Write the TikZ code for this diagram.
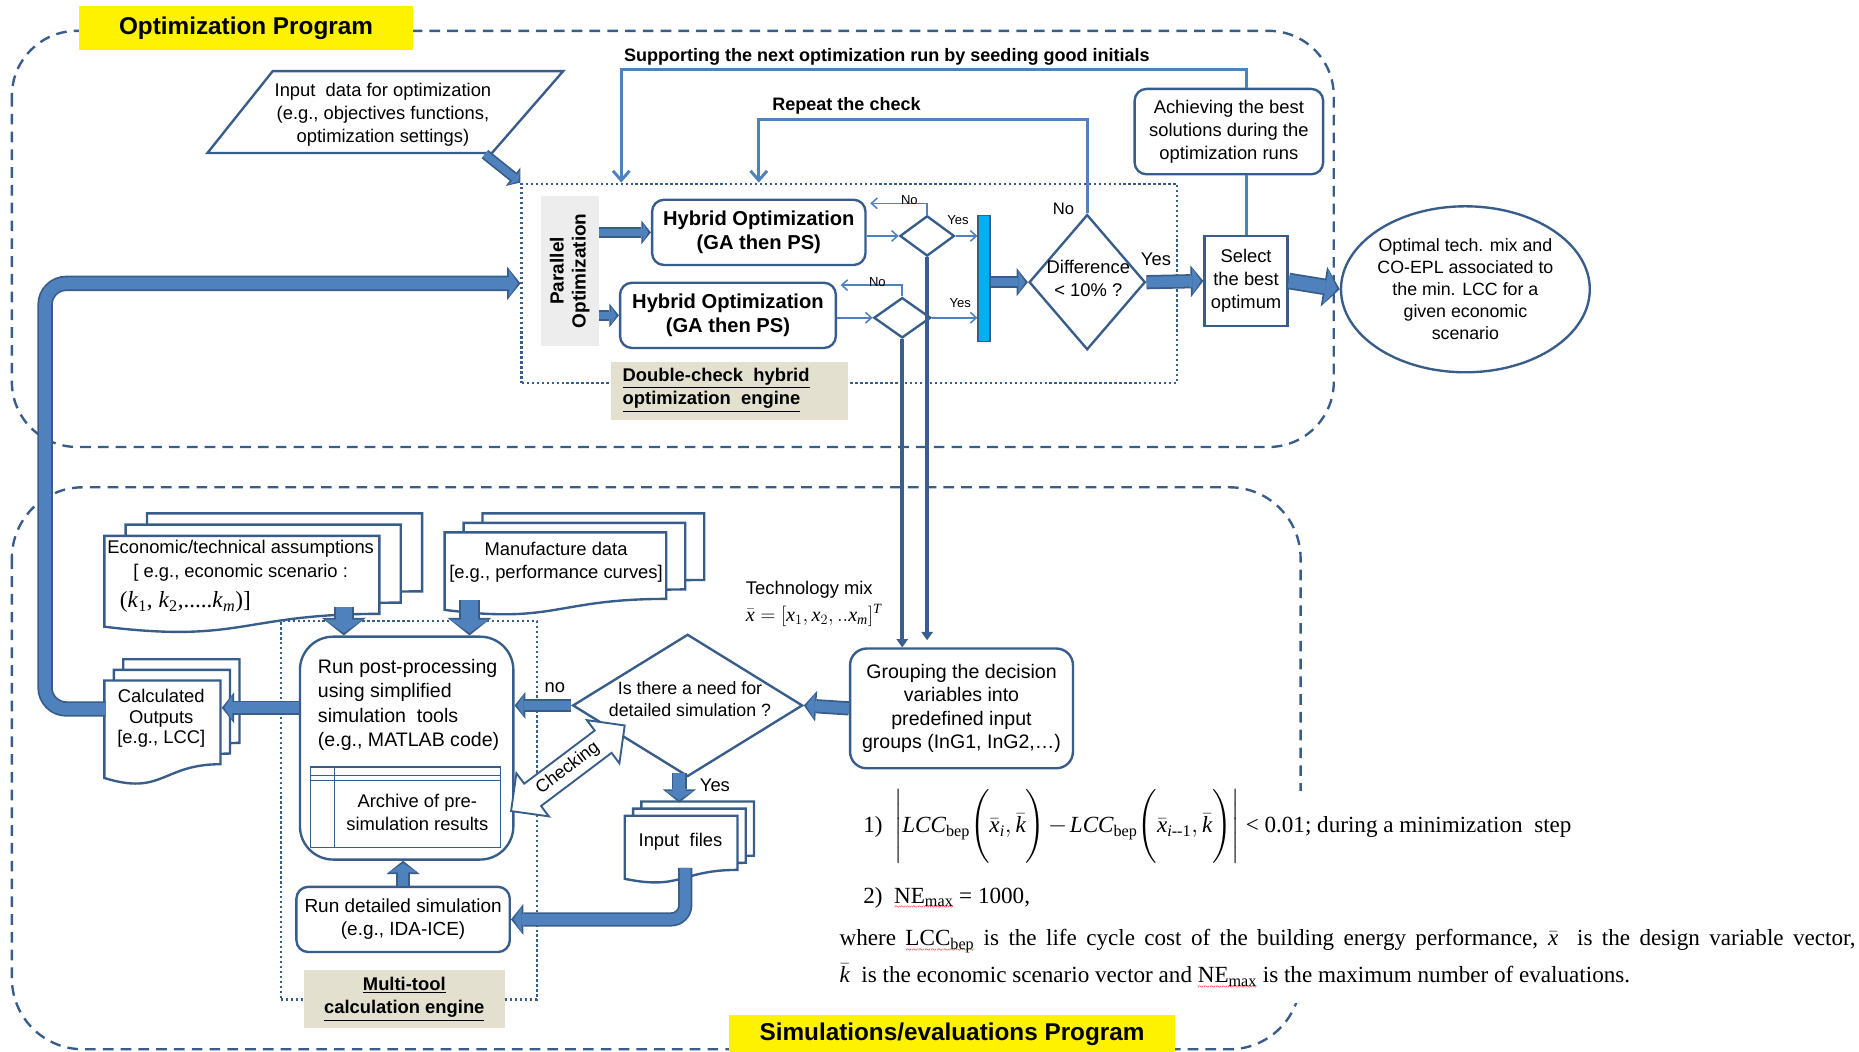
\documentclass[tikz,border=0pt]{standalone}
\usepackage[no-math]{fontspec}
\setmainfont{Liberation Sans}
\newfontfamily\tms{Liberation Serif}
\usepackage{amsmath}
\usetikzlibrary{arrows.meta,shapes.geometric,shapes.arrows,calc}
\definecolor{dk}{HTML}{385D8A}
\definecolor{lb}{HTML}{4F81BD}
\definecolor{vd}{HTML}{3A5F8E}
\definecolor{cy}{HTML}{00B0F0}
\definecolor{beige}{HTML}{E3E0D0}
\definecolor{gry}{HTML}{EDEDED}
\newcommand\rwave[1]{\leavevmode\setbox0\hbox{#1}\rlap{\textcolor{red}{\lower6pt\hbox to\wd0{\xleaders\hbox{\fontsize{9}{9}\selectfont\textasciitilde}\hfill}}}\box0\relax}
\newcommand\myit[1]{\text{\itshape #1}}
% block arrow: [options]{shaft width}{head width}{path}
\newcommand\BlkArr[4][]{%
 \pgfmathsetmacro\bsL{#2-3}\pgfmathsetmacro\bhL{#3-5}%
 \pgfmathsetmacro\blen{0.40*#3}\pgfmathsetmacro\blenL{0.40*#3-3.7}%
 \draw[draw=dk, line width=#2pt, -{Triangle[length=\blen pt,width=#3pt,line width=0pt]},#1] #4;
 \draw[draw=lb, line width=\bsL pt, shorten >=2.2pt, -{Triangle[length=\blenL pt,width=\bhL pt,line width=0pt]},#1] #4;}
\newcommand\docshape[4]{%
 \filldraw[docsty] ({#1},{#2}) -- ({#1+#3},{#2}) -- ({#1+#3},{#2+0.802*#4}) .. controls ({#1+0.5*#3},{#2+0.802*#4}) and ({#1+0.5*#3},{#2+1.108*#4}) .. ({#1},{#2+0.934*#4}) -- cycle;}
\newcommand\docstack[6]{\docshape{#1+2*#5}{#2-2*#6}{#3}{#4}\docshape{#1+#5}{#2-#6}{#3}{#4}\docshape{#1}{#2}{#3}{#4}}
\begin{document}
\begin{tikzpicture}[x=1pt,y=-1pt,
 font=\fontsize{15.5}{19.5}\selectfont,
 dashsty/.style={draw=dk, line width=2pt, dash pattern=on 9pt off 6pt},
 dotsty/.style={draw=dk, line width=2pt, dash pattern=on 2pt off 2.2pt},
 boxsty/.style={draw=dk, line width=2pt, fill=white, inner sep=0, align=center},
 rbox/.style={boxsty, rounded corners=10pt},
 dmd/.style={diamond, draw=dk, line width=2pt, fill=white, inner sep=0},
 docsty/.style={draw=dk, line width=2pt, fill=white},
 ttl/.style={fill=yellow, inner sep=0, font=\fontsize{20.5}{24}\selectfont\bfseries},
 tarr/.style={draw=lb, line width=1.3pt, -{Straight Barb[length=5pt,width=9pt]}},
 farr/.style={draw=lb, line width=2.5pt, -{Straight Barb[length=8pt,width=14pt]}},
 tline/.style={draw=lb, line width=2.5pt},
 vline/.style={draw=vd, line width=3.5pt, -{Triangle[length=7pt,width=10pt,line width=0pt]}},
 sml/.style={inner sep=0, font=\fontsize{11}{13}\selectfont},
 bl/.style={inner sep=0, font=\fontsize{15.2}{18}\selectfont\bfseries},
 txt/.style={inner sep=0, align=center}]
\useasboundingbox (0,0) rectangle (1568,887);
% program regions
\draw[dashsty, rounded corners=55pt] (10,26) rectangle (1125,377);
\draw[dashsty, rounded corners=60pt] (10,411) rectangle (1097,885);
\fill[white] (700,667) rectangle (1568,846);
\node[ttl, minimum width=281pt, minimum height=37pt] (optprog) at (207.5,23.5) {Optimization Program};
\node[ttl, minimum width=376pt, minimum height=31pt] (simprog) at (803,872) {Simulations/evaluations Program};
% input data
\draw[docsty] (230,60) -- (475,60) -- (415,129) -- (175,129) -- cycle;
\node[txt] (inp) at (323,97) {Input\ \ data for optimization\\(e.g., objectives functions,\\optimization settings)};
\coordinate (inpbr) at (409,130);
% double-check engine
\node[dotsty, minimum width=553pt, minimum height=168pt, inner sep=0] (dbl) at (716.5,239) {};
\BlkArr{9}{20}{(inpbr) -- (dbl.north west)}
\node[fill=gry, minimum width=49pt, minimum height=127pt, inner sep=0] (par) at (480.5,228.5) {};
\node[rotate=90, align=center, inner sep=0, font=\fontsize{16}{18.5}\selectfont\bfseries] (partxt) at (par) {Parallel\\Optimization};
\node[rbox, minimum width=180pt, minimum height=55pt, font=\fontsize{17}{20}\selectfont\bfseries] (ho1) at (640,196) {Hybrid Optimization\\(GA then PS)};
\node[rbox, minimum width=182pt, minimum height=55pt, font=\fontsize{17}{20}\selectfont\bfseries] (ho2) at (614,266) {Hybrid Optimization\\(GA then PS)};
\BlkArr{9}{20}{(par.east |- ho1.west) -- (ho1.west)}
\BlkArr{9}{20}{(par.east |- ho2.west) -- (ho2.west)}
\node[dmd, minimum width=46pt, minimum height=34pt] (d1) at (782,199) {};
\node[dmd, minimum width=48pt, minimum height=34pt] (d2) at (761,268) {};
\node[fill=cy, draw=dk, line width=1.2pt, minimum width=10pt, minimum height=106pt, inner sep=0] (bar) at (830,235) {};
\draw[tarr] (ho1.east |- d1.west) -- (d1.west);
\draw[tarr] (d1.north) |- ($(ho1.north east)+(3,4)$);
\draw[tarr] (d1.east) -- (d1.east -| bar.west);
\draw[tarr] (ho2.east |- d2.west) -- (d2.west);
\draw[tarr] (d2.north) |- ($(ho2.north east)+(3,3)$);
\draw[tarr] (d2.east) -- (d2.east -| bar.west);
\node[sml] (no1) at (767,169) {No};
\node[sml] (yes1) at (808,186) {Yes};
\node[sml] (no2) at (740,238) {No};
\node[sml] (yes2) at (810,256) {Yes};
\node[dmd, minimum width=98pt, minimum height=114pt] (diff) at (917,238) {};
\node[txt] (difft) at (918,235) {Difference\\< 10\% ?};
\BlkArr{10}{24}{(bar.east |- diff.west) -- (diff.west)}
\node[boxsty, minimum width=70pt, minimum height=76pt] (sel) at (1051,237) {Select\\the best\\optimum};
\BlkArr{12}{27}{(diff.east) -- (sel.west)}
\node[rbox, minimum width=159pt, minimum height=72pt] (ach) at (1036.5,111) {Achieving the best\\solutions during the\\optimization runs};
\draw[tline] (sel.north) -- (sel.north |- ach.south);
\coordinate (sup) at (524,59);
\draw[farr] (sel.north |- ach.north) |- (sup) -- (sup |- dbl.north);
\node[bl] (suplbl) at (748,48) {Supporting the next optimization run by seeding good initials};
\coordinate (rep) at (640,101);
\draw[farr] (diff.north) |- (rep) -- (rep |- dbl.north);
\node[bl] (replbl) at (714,89) {Repeat the check};
\node[inner sep=0, font=\fontsize{14}{16}\selectfont] (nolbl) at (897,176) {No};
\node[inner sep=0] (yeslbl) at (975,219) {Yes};
\node[ellipse, draw=dk, line width=2pt, fill=white, minimum width=196pt, minimum height=140pt, inner sep=0, align=center, font=\fontsize{15}{18.5}\selectfont] (ell) at (1236,244) {Optimal tech. mix and\\CO-EPL associated to\\the min. LCC for a\\given economic\\scenario};
\BlkArr{14}{34}{(sel.east) -- (ell.west)}
\node[fill=beige, minimum width=200pt, minimum height=49pt, inner sep=0] (dcl) at (615,329.5) {};
\node[anchor=west, align=left, inner sep=0, font=\fontsize{15.5}{19.5}\selectfont\bfseries] (dcltxt) at (525,329) {\underline{Double-check\ \ hybrid}\\\underline{optimization\ \ engine}};
% multi-tool engine
\node[dotsty, minimum width=216pt, minimum height=319pt, inner sep=0] (mt) at (345,683.5) {};
\docstack{88}{452}{232}{82}{18}{9.5}
\node[txt] (econ) at (203,473) {Economic/technical assumptions\\{[} e.g., economic scenario :};
\node[anchor=west, inner sep=0, font=\tms\fontsize{19.5}{22}\selectfont] (econk) at (101,508) {(\textit{k}\textsubscript{1}, \textit{k}\textsubscript{2},.....\textit{k}\textsubscript{\textit{m}})]};
\docstack{375}{449}{187}{70}{16}{8}
\node[txt] (mfg) at (469,474) {Manufacture data\\{[}e.g., performance curves]};
\docstack{88}{574}{98}{88}{8}{9}
\node[txt, font=\fontsize{15.5}{17.5}\selectfont] (calc) at (136,606) {Calculated\\Outputs\\{[}e.g., LCC]};
\node[draw=dk, line width=2pt, fill=white, rounded corners=28pt, minimum width=180pt, minimum height=188pt, inner sep=0] (rp) at (343,631) {};
\node[anchor=north west, align=left, inner sep=0, font=\fontsize{16.5}{20.5}\selectfont] (rptxt) at (268,556) {Run post-processing\\using simplified\\simulation\ \ tools\\(e.g., MATLAB code)};
\node[draw=dk, line width=1.2pt, minimum width=160pt, minimum height=68pt, inner sep=0] (arch) at (342,681) {};
\draw[dk, line width=1pt] (arch.north west) ++(0,8) -- ++(160,0) ++(-160,4) -- ++(160,0);
\draw[dk, line width=1pt] ($(arch.north west)+(21,0)$) -- ($(arch.south west)+(21,0)$);
\node[txt] (archt) at (352,685) {Archive of pre-\\simulation results};
\coordinate (ea) at (290,512);
\coordinate (ma) at (396,506);
\BlkArr{17}{37}{(ea) -- (ea |- rp.north)}
\BlkArr{17}{37}{(ma) -- (ma |- rp.north)}
\coordinate (ca) at (187,597);
\BlkArr{12}{26}{(ca -| rp.west) -- (ca)}
\node[dmd, minimum width=194pt, minimum height=120pt] (dec) at (580,595) {};
\node[txt, font=\fontsize{15}{18.5}\selectfont] (dect) at (582,590) {Is there a need for\\detailed simulation ?};
\node[rbox, rounded corners=14pt, minimum width=188pt, minimum height=101pt, font=\fontsize{16.5}{19.5}\selectfont] (grp) at (811,597.5) {Grouping the decision\\variables into\\predefined input\\groups (InG1, InG2,…)};
\BlkArr{12}{26}{(grp.west) -- (dec.east)}
\BlkArr{11}{23}{(dec.west) -- (dec.west -| rp.east)}
\node[inner sep=0] (nolow) at (468,580) {no};
\docstack{527}{688}{95}{57}{7}{6}
\node[inner sep=0] (inf) at (574,710) {Input\ \ files};
\coordinate (ya) at (573,652);
\coordinate (yb) at (573,677);
\BlkArr{13}{28}{(ya) -- (yb)}
\node[inner sep=0] (yeslow) at (603,662) {Yes};
\node[rbox, minimum width=180pt, minimum height=55pt, font=\fontsize{16}{19.5}\selectfont] (rd) at (340,775.5) {Run detailed simulation\\(e.g., IDA-ICE)};
\coordinate (ib) at (578,732);
\BlkArr[rounded corners=12pt]{12}{26}{(ib) |- (rd.east)}
\BlkArr{12}{28}{(rd.north) -- (rd.north |- rp.south)}
\node[double arrow, draw=dk, fill=white, line width=1.6pt, rotate=37, minimum height=120pt, double arrow head extend=11pt, inner sep=4pt, font=\fontsize{15}{17}\selectfont] (chk) at (479,648) {Checking};
\node[anchor=west, inner sep=0] (tmix) at (629,497) {Technology mix};
\node[anchor=west, inner sep=0, font=\tms\fontsize{17}{20}\selectfont] (tmx) at (629,519) {$\bar{\myit{x}}=[\myit{x}_{1},\myit{x}_{2},..\myit{x}_{\myit{m}}]^{\myit{T}}$};
\node[fill=beige, minimum width=170pt, minimum height=49pt, inner sep=0, align=center, font=\fontsize{15.5}{20}\selectfont\bfseries] (mtl) at (341,842.5) {\underline{Multi-tool}\\\underline{calculation engine}};
% decision variables down
\draw[vline] (d1.south) -- ($(d1.south |- grp.north)+(0,-6)$);
\draw[vline] (d2.south) -- (d2.south |- grp.north);
% outer loop
\coordinate (cl) at (89,598);
\coordinate (lp) at (38,598);
\BlkArr[rounded corners=18pt]{13}{28}{(cl) -- (lp) |- (dbl.west)}
% formulas
\node[anchor=west, inner sep=0, font=\tms\fontsize{19.5}{23}\selectfont] (f1) at (728,697) {1)\ \ $\Biggl|\myit{LCC}_{\text{bep}}\Biggl(\bar{\myit{x}}_{\myit{i}},\bar{\myit{k}}\Biggr)\mkern-2mu-\mkern-2mu\myit{LCC}_{\text{bep}}\Biggl(\bar{\myit{x}}_{\myit{i}\text{--1}},\bar{\myit{k}}\Biggr)\Biggr|$ < 0.01; during a minimization\ \ step};
\node[anchor=west, inner sep=0, font=\tms\fontsize{19.5}{23}\selectfont] (f2) at (728,758) {2)\ \ \rwave{NE\textsubscript{max}} = 1000,};
\node[anchor=west, inner sep=0, font=\tms\fontsize{19.5}{23}\selectfont] (f3) at (708,794) {\makebox[857pt][s]{where \rwave{LCC\textsubscript{bep}} is the life cycle cost of the building energy performance, $\bar{\myit{x}}$\ \ is the design variable vector,}};
\node[anchor=west, inner sep=0, font=\tms\fontsize{19.5}{23}\selectfont] (f4) at (708,824) {$\bar{\myit{k}}$\ \ is the economic scenario vector and \rwave{NE\textsubscript{max}} is the maximum\ number of evaluations.};
\end{tikzpicture}
\end{document}
